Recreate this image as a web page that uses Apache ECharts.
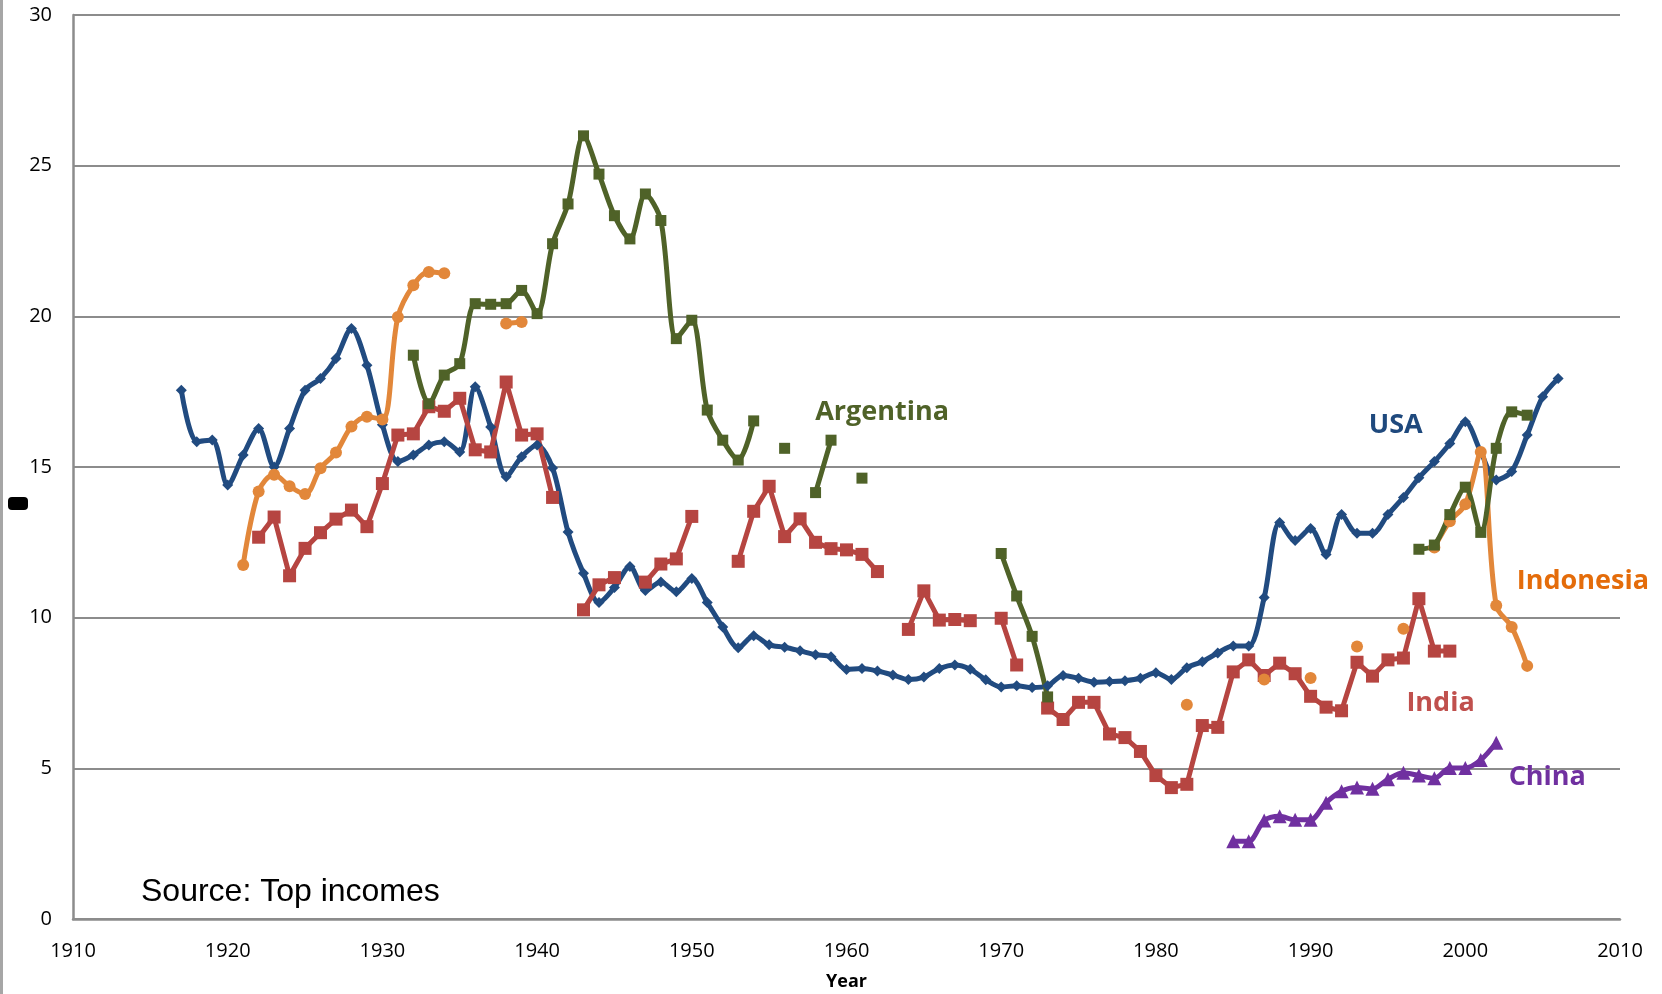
<!DOCTYPE html>
<html>
<head>
<meta charset="utf-8">
<script src="https://cdn.jsdelivr.net/npm/echarts@6/dist/echarts.min.js"></script>
<style>
  html, body { margin: 0; padding: 0; background: #fff; }
  #wrap { position: relative; width: 1662px; height: 994px; }
  #wrap::before { content: ''; position: absolute; left: 0; top: 0; width: 3px; height: 994px; background: #a6a6a6; z-index: 2; }
  #chart { width: 1662px; height: 994px; }
</style>
</head>
<body>
<div id="wrap"><div id="chart"></div></div>
<script>
// top income shares by year (null = no data that year)
const usaStart = 1917;
const usa = [
  17.55, 15.84, 15.9, 14.4, 15.4, 16.28, 15.0, 16.28, 17.55, 17.94, 18.6, 19.6, 18.38, 16.4,
  15.18, 15.4, 15.73, 15.84, 15.5, 17.66, 16.33, 14.68, 15.34, 15.73,
  14.97, 12.84, 11.47, 10.5, 11.0, 11.7, 10.9, 11.18, 10.86, 11.3,
  10.5, 9.69, 9.0, 9.4, 9.1, 9.02, 8.9, 8.77, 8.7, 8.28,
  8.31, 8.23, 8.1, 7.95, 8.03, 8.31, 8.43, 8.29, 7.94, 7.7,
  7.74, 7.68, 7.74, 8.08, 7.99, 7.86, 7.88, 7.91, 7.99, 8.17,
  7.95, 8.34, 8.54, 8.83, 9.06, 9.06, 10.67, 13.16, 12.56, 12.96,
  12.1, 13.42, 12.8, 12.8, 13.42, 13.99, 14.64, 15.18, 15.78, 16.5,
  15.5, 14.57, 14.85, 16.06, 17.33, 17.94
];

const indiaStart = 1922;
const india = [
  12.67, 13.34, 11.39, 12.3, 12.82, 13.27, 13.57, 13.02, 14.45,
  16.06, 16.1, 17.0, 16.85, 17.28, 15.57, 15.5, 17.82, 16.06, 16.1,
  13.99, null, 10.26, 11.09, 11.33, null, 11.18, 11.78, 11.95, 13.36,
  null, null, 11.87, 13.53, 14.36, 12.69, 13.28, 12.5, 12.29, 12.25,
  12.1, 11.53, null, 9.61, 10.89, 9.92, 9.94, 9.9, null, 9.98,
  8.43, null, 7.0, 6.62, 7.19, 7.19, 6.14, 6.02, 5.56, 4.76,
  4.36, 4.47, 6.42, 6.36, 8.2, 8.6, 8.08, 8.49, 8.14, 7.39,
  7.03, 6.91, 8.52, 8.06, 8.6, 8.66, 10.63, 8.89, 8.89
];

const indonesiaYears = [1921, 1922, 1923, 1924, 1925, 1926, 1927, 1928, 1929, 1930, 1931, 1932, 1933, 1934,
  1938, 1939, 1982, 1987, 1990, 1993, 1996, 1998, 1999, 2000, 2001, 2002, 2003, 2004];
const indonesia = [11.75, 14.19, 14.74, 14.36, 14.1, 14.96, 15.48, 16.34, 16.67, 16.58, 19.98, 21.03, 21.47, 21.43,
  19.76, 19.81, 7.11, 7.95, 8.0, 9.04, 9.63, 12.33, 13.2, 13.76, 15.5, 10.4, 9.69, 8.4];

const argentinaYears = [1932, 1933, 1934, 1935, 1936, 1937, 1938, 1939, 1940, 1941, 1942, 1943, 1944, 1945,
  1946, 1947, 1948, 1949, 1950, 1951, 1952, 1953, 1954, 1956, 1958, 1959, 1961, 1970, 1971, 1972, 1973,
  1997, 1998, 1999, 2000, 2001, 2002, 2003, 2004];
const argentina = [18.71, 17.1, 18.05, 18.43, 20.42, 20.4, 20.42, 20.86, 20.09, 22.41, 23.73, 25.99, 24.72, 23.34,
  22.57, 24.06, 23.18, 19.26, 19.87, 16.89, 15.89, 15.23, 16.53, 15.62, 14.15, 15.89, 14.63, 12.13, 10.72, 9.38, 7.37,
  12.27, 12.41, 13.42, 14.33, 12.83, 15.62, 16.83, 16.72];

const chinaStart = 1985;
const china = [2.58, 2.58, 3.27, 3.41, 3.29, 3.29, 3.86, 4.24, 4.36, 4.32, 4.64, 4.85, 4.76, 4.67, 5.01, 5.01, 5.28, 5.85];

const yTicks = [0, 5, 10, 15, 20, 25, 30];
const xTicks = [1910, 1920, 1930, 1940, 1950, 1960, 1970, 1980, 1990, 2000, 2010];

// series name labels, placed in data space
const labels = [
  { name: 'Argentina', at: [1962.3, 16.8], color: '#4f6228' },
  { name: 'USA', at: [1995.5, 16.4], color: '#1f497d' },
  { name: 'Indonesia', at: [2007.6, 11.2], color: '#e46c0a' },
  { name: 'India', at: [1998.4, 7.15], color: '#c0504d' },
  { name: 'China', at: [2005.3, 4.7], color: '#7030a0' }
];

function fromStart(start, values) {
  return values.map((v, i) => [start + i, v]);
}
// break the line wherever a year is missing
function fromYears(years, values) {
  const out = [];
  years.forEach((y, i) => {
    if (i > 0 && y - years[i - 1] > 1) out.push([y - 0.5, null]);
    out.push([y, values[i]]);
  });
  return out;
}

const chart = echarts.init(document.getElementById('chart'));

const labelFont = '"Open Sans", sans-serif';

function line(name, data, color, symbol, size, smooth) {
  return {
    name, type: 'line', data, smooth, connectNulls: false,
    symbol, symbolSize: size, showSymbol: true,
    lineStyle: { color, width: 5 },
    itemStyle: { color },
    emphasis: { disabled: true },
    z: 2
  };
}

const series = [
  line('USA', fromStart(usaStart, usa), '#214b80', 'diamond', 11, 0.3),
  line('India', fromStart(indiaStart, india), '#b64541', 'rect', 13, false),
  line('Indonesia', fromYears(indonesiaYears, indonesia), '#e2873a', 'circle', 12, 0.35),
  line('China', fromStart(chinaStart, china), '#7030a0', 'triangle', 14, 0.3),
  line('Argentina', fromYears(argentinaYears, argentina), '#4f6228', 'rect', 11, 0.3)
];

series.push({
  type: 'scatter', data: [], silent: true,
  markPoint: {
    symbol: 'circle', symbolSize: 0, silent: true,
    data: labels.map(l => ({
      coord: l.at,
      label: {
        show: true, formatter: l.name, position: 'inside',
        color: l.color, fontFamily: labelFont, fontWeight: 'bold', fontSize: 27
      }
    }))
  }
});

chart.setOption({
  animation: false,
  backgroundColor: '#fff',
  title: {
    text: 'Source: Top incomes', left: 141, top: 876, padding: 0,
    textStyle: { fontFamily: '"Liberation Sans", Arial, sans-serif', fontSize: 32, fontWeight: 'normal', color: '#000' }
  },
  grid: { left: 73, right: 42, top: 15, bottom: 75, outerBoundsMode: 'none' },
  xAxis: {
    type: 'value', min: xTicks[0], max: xTicks[xTicks.length - 1], interval: 10,
    name: 'Year', nameLocation: 'middle', nameGap: 54,
    nameTextStyle: { fontFamily: labelFont, fontWeight: 'bold', fontSize: 18, color: '#000' },
    axisLine: { show: true, onZero: false, lineStyle: { color: '#8c8c8c', width: 2.5 } },
    axisTick: { show: false },
    splitLine: { show: false },
    axisLabel: { fontFamily: labelFont, fontSize: 20, color: '#000', margin: 22, formatter: v => String(v) }
  },
  yAxis: {
    type: 'value', min: yTicks[0], max: yTicks[yTicks.length - 1], interval: 5,
    axisLine: { show: true, lineStyle: { color: '#8c8c8c', width: 2.5 } },
    axisTick: { show: false },
    splitLine: { lineStyle: { color: '#8c8c8c', width: 2 } },
    axisLabel: { fontFamily: labelFont, fontSize: 20, color: '#000', margin: 21 }
  },
  graphic: [
    { type: 'rect', left: 8, top: 497, shape: { width: 20, height: 13, r: 4 }, style: { fill: '#000' }, silent: true }
  ],
  series
});
</script>
</body>
</html>
